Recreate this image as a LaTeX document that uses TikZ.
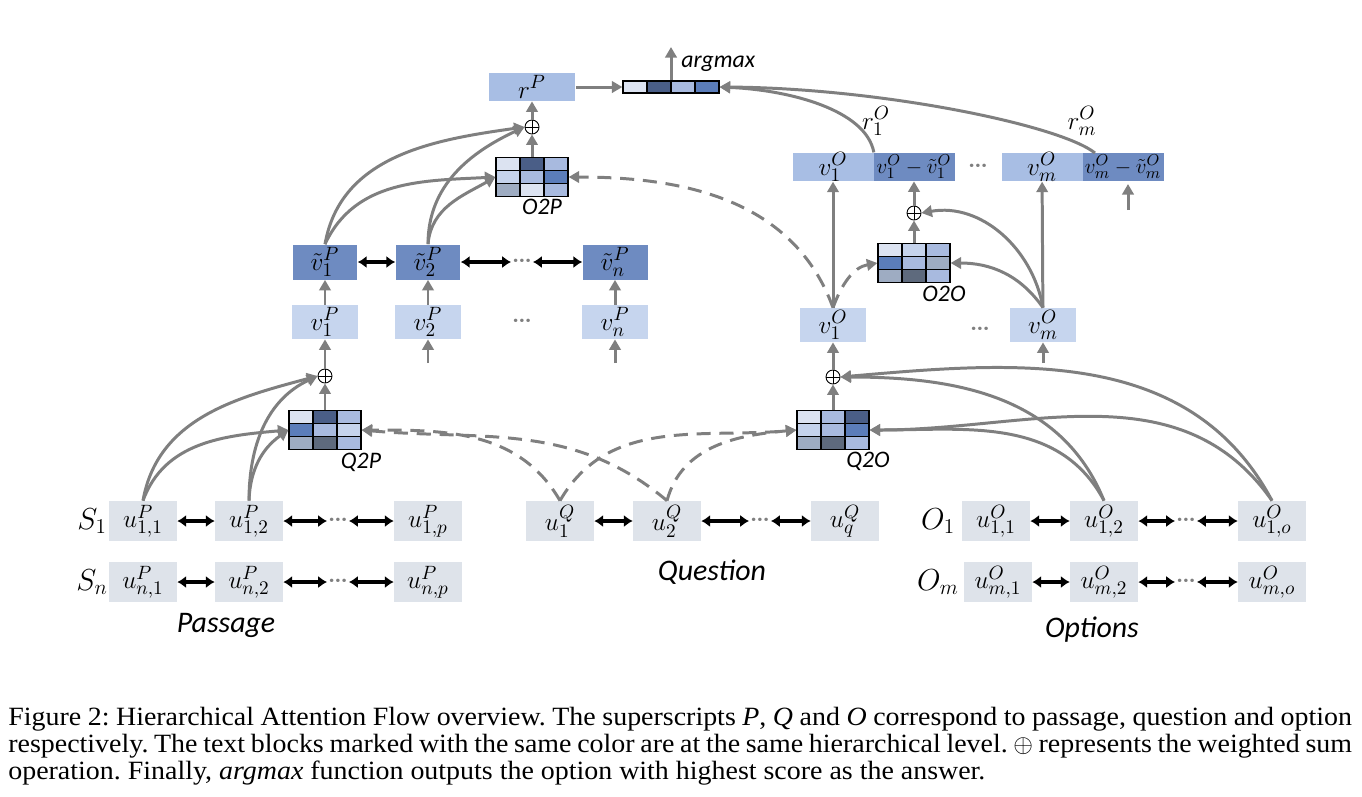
\documentclass[tikz,border=0pt]{standalone}
\usepackage{fontspec}
\setmainfont{Liberation Serif}[FakeStretch=1.06]
\newfontfamily\labfont{Carlito}
\usetikzlibrary{arrows.meta,matrix,positioning}

\definecolor{ugray}{RGB}{222,227,234}
\definecolor{vlight}{RGB}{198,213,238}
\definecolor{vmid}{RGB}{168,190,228}
\definecolor{vdark}{RGB}{110,139,193}
\definecolor{lgray}{RGB}{127,127,127}
\definecolor{c1}{RGB}{220,227,241}
\definecolor{c2}{RGB}{197,211,236}
\definecolor{c3}{RGB}{168,186,223}
\definecolor{c4}{RGB}{91,125,186}
\definecolor{c5}{RGB}{74,94,135}
\definecolor{c6}{RGB}{158,172,194}
\definecolor{c7}{RGB}{94,106,125}

\newcommand{\hdots}{{\fontsize{8}{8}\selectfont\textbullet\hspace{0.6pt}\textbullet\hspace{0.6pt}\textbullet}}

\tikzset{
  mathtxt/.style={font=\fontsize{15.5}{17}\selectfont},
  ubox/.style={mathtxt, fill=ugray, minimum width=1.36cm, minimum height=0.8cm, inner sep=0pt},
  vbox/.style={mathtxt, fill=vlight, minimum width=1.32cm, minimum height=0.68cm, inner sep=0pt},
  tbox/.style={mathtxt, fill=vdark, minimum width=1.3cm, minimum height=0.7cm, inner sep=0pt},
  rbox/.style={mathtxt, fill=vmid, minimum width=1.74cm, minimum height=0.56cm, inner sep=0pt},
  cbox/.style={mathtxt, fill=vmid, minimum width=1.62cm, minimum height=0.56cm, inner sep=0pt},
  dbox/.style={font=\fontsize{12.5}{14}\selectfont, fill=vdark, minimum width=1.62cm, minimum height=0.56cm, inner sep=0pt},
  seq/.style={font=\fontsize{17}{19}\selectfont, inner sep=0pt},
  dots/.style={text=lgray, inner sep=1pt},
  lab/.style={font=\labfont\itshape\fontsize{17}{19}\selectfont, inner sep=0pt},
  amlab/.style={font=\labfont\itshape\fontsize{13.5}{15}\selectfont, inner sep=0pt},
  mlab/.style={font=\labfont\itshape\fontsize{13.5}{15}\selectfont, inner sep=0pt},
  cell/.style={draw=black, line width=0.7pt, minimum width=0.48cm, minimum height=0.26cm, inner sep=0pt, outer sep=0pt},
  attn/.style={matrix of nodes, nodes in empty cells, inner sep=0pt, outer sep=0pt, column sep=-0.7pt, row sep=-0.7pt, nodes={cell}},
  sum/.style={circle, draw=black, line width=0.5pt, minimum size=0.28cm, inner sep=0pt, fill=white,
    path picture={\draw[line width=0.5pt] (path picture bounding box.north) -- (path picture bounding box.south)
      (path picture bounding box.west) -- (path picture bounding box.east);}},
  flow/.style={draw=lgray, line width=1.7pt, -{Triangle[length=6pt,width=6.5pt]}},
  dflow/.style={flow, dash pattern=on 8pt off 5pt},
  bi/.style={draw=black, line width=1.8pt, {Latex[length=5pt,width=7pt]}-{Latex[length=5pt,width=7pt]}},
  captxt/.style={anchor=base west, inner sep=0pt, font=\fontsize{15}{16}\selectfont},
}

\begin{document}
\frenchspacing
\begin{tikzpicture}[x=0.02cm,y=-0.02cm]
\useasboundingbox (0,0) rectangle (1362,796);

% passage words
\node[seq] (s1) at (92,521) {$S_1$};
\node[ubox] (u11) at (143,521) {$u^P_{1,1}$};
\node[ubox] (u12) at (249,521) {$u^P_{1,2}$};
\node[dots] (ud1) at (338,521) {\hdots};
\node[ubox] (u1p) at (428,521) {$u^P_{1,p}$};
\node[seq] (sn) at (92,582) {$S_n$};
\node[ubox] (un1) at (143,582) {$u^P_{n,1}$};
\node[ubox] (un2) at (249,582) {$u^P_{n,2}$};
\node[dots] (udn) at (338,582) {\hdots};
\node[ubox] (unp) at (428,582) {$u^P_{n,p}$};
\node[lab] (passage) at (226,625) {Passage};

\draw[bi] (u11) -- (u12);
\draw[bi] (u12) -- (ud1);
\draw[bi] (ud1) -- (u1p);
\draw[bi] (un1) -- (un2);
\draw[bi] (un2) -- (udn);
\draw[bi] (udn) -- (unp);

% question words
\node[ubox] (uq1) at (560,521) {$u^Q_1$};
\node[ubox] (uq2) at (667,521) {$u^Q_2$};
\node[dots] (uqd) at (760,521) {\hdots};
\node[ubox] (uqq) at (845,521) {$u^Q_q$};
\node[lab] (question) at (712,572) {Question};

\draw[bi] (uq1) -- (uq2);
\draw[bi] (uq2) -- (uqd);
\draw[bi] (uqd) -- (uqq);

% option words
\node[seq] (o1) at (938,521) {$O_1$};
\node[ubox] (uo11) at (996,521) {$u^O_{1,1}$};
\node[ubox] (uo12) at (1104,521) {$u^O_{1,2}$};
\node[dots] (uod1) at (1186,521) {\hdots};
\node[ubox] (uo1o) at (1272,521) {$u^O_{1,o}$};
\node[seq] (om) at (938,582) {$O_m$};
\node[ubox] (uom1) at (998,582) {$u^O_{m,1}$};
\node[ubox] (uom2) at (1104,582) {$u^O_{m,2}$};
\node[dots] (uodm) at (1186,582) {\hdots};
\node[ubox] (uomo) at (1272,582) {$u^O_{m,o}$};
\node[lab] (options) at (1092,630) {Options};

\draw[bi] (uo11) -- (uo12);
\draw[bi] (uo12) -- (uod1);
\draw[bi] (uod1) -- (uo1o);
\draw[bi] (uom1) -- (uom2);
\draw[bi] (uom2) -- (uodm);
\draw[bi] (uodm) -- (uomo);

% Q2P
\matrix (q2p) [attn] at (325,430) {
  |[fill=c1]| & |[fill=c5]| & |[fill=c3]| \\
  |[fill=c4]| & |[fill=c3]| & |[fill=c2]| \\
  |[fill=c6]| & |[fill=c7]| & |[fill=c3]| \\
};
\node[mlab] (q2plab) at (361,462) {Q2P};
\node[sum] (sumqp) at (325,376) {};

\draw[flow] (u11.north) to[out=80,in=195] (sumqp.west);
\draw[flow] (u11.north) to[out=70,in=185] (q2p.west);
\draw[flow] (u12.north) to[out=90,in=205] (sumqp.west);
\draw[flow] (u12.north) to[out=88,in=215] (q2p.west);
\draw[dflow] (uq1.north) to[out=120,in=0] (q2p.east);
\draw[dflow] (uq2.north) to[out=140,in=-5] (q2p.east);
\draw[flow] (q2p) -- (sumqp);

% passage sentences
\node[vbox] (v1p) at (325,322) {$v^P_1$};
\node[vbox] (v2p) at (428,322) {$v^P_2$};
\node[dots] (vpd) at (522,322) {\hdots};
\node[vbox] (vnp) at (615,322) {$v^P_n$};
\node[tbox] (tv1) at (325,262) {$\tilde{v}^P_1$};
\node[tbox] (tv2) at (428,262) {$\tilde{v}^P_2$};
\node[dots] (tvd) at (522,262) {\hdots};
\node[tbox] (tvn) at (615,262) {$\tilde{v}^P_n$};
\coordinate (in2) at (428,363);
\coordinate (inn) at (615,363);

\draw[flow] (sumqp) -- (v1p);
\draw[flow] (in2) -- (v2p);
\draw[flow] (inn) -- (vnp);
\draw[flow] (v1p) -- (tv1);
\draw[flow] (v2p) -- (tv2);
\draw[flow] (vnp) -- (tvn);
\draw[bi] (tv1) -- (tv2);
\draw[bi] (tv2) -- (tvd);
\draw[bi] (tvd) -- (tvn);

% O2P
\matrix (o2p) [attn] at (532,177) {
  |[fill=c1]| & |[fill=c5]| & |[fill=c3]| \\
  |[fill=c2]| & |[fill=c3]| & |[fill=c4]| \\
  |[fill=c6]| & |[fill=c1]| & |[fill=c3]| \\
};
\node[mlab] (o2plab) at (542,207) {O2P};
\node[sum] (sumop) at (532,127) {};
\node[rbox] (rp) at (532,87) {$r^P$};

\draw[flow] (tv1.north) to[out=80,in=188] (sumop.west);
\draw[flow] (tv1.north) to[out=65,in=183] (o2p.west);
\draw[flow] (tv2.north) to[out=90,in=205] (sumop.west);
\draw[flow] (tv2.north) to[out=85,in=210] (o2p.west);
\draw[flow] (o2p) -- (sumop);
\draw[flow] (sumop) -- (rp);

% Q2O
\matrix (q2o) [attn] at (833,430) {
  |[fill=c1]| & |[fill=c3]| & |[fill=c5]| \\
  |[fill=c2]| & |[fill=c3]| & |[fill=c4]| \\
  |[fill=c6]| & |[fill=c7]| & |[fill=c3]| \\
};
\node[mlab] (q2olab) at (868,461) {Q2O};
\node[sum] (sumqo) at (833,377) {};

\draw[dflow] (uq1.north) to[out=60,in=185] (q2o.west);
\draw[dflow] (uq2.north) to[out=75,in=185] (q2o.west);
\draw[flow] (uo12.north) to[out=112,in=0] (sumqo.east);
\draw[flow] (uo12.north) to[out=118,in=0] (q2o.east);
\draw[flow] (uo1o.north) to[out=118,in=5] (sumqo.east);
\draw[flow] (uo1o.north) to[out=125,in=0] (q2o.east);
\draw[flow] (q2o) -- (sumqo);

% option sentences
\node[vbox] (vo1) at (833,325) {$v^O_1$};
\node[dots] (vod) at (980,330) {\hdots};
\node[vbox] (vom) at (1043,325) {$v^O_m$};
\coordinate (inm) at (1043,363);

\draw[flow] (sumqo) -- (vo1);
\draw[flow] (inm) -- (vom);

% O2O
\matrix (o2o) [attn] at (914,263) {
  |[fill=c1]| & |[fill=c2]| & |[fill=c3]| \\
  |[fill=c4]| & |[fill=c3]| & |[fill=c6]| \\
  |[fill=c6]| & |[fill=c7]| & |[fill=c3]| \\
};
\node[mlab] (o2olab) at (944,294) {O2O};
\node[sum] (sumoo) at (914,213) {};

\draw[dflow] (vo1.north) to[out=110,in=0] (o2p.east);
\draw[dflow] (vo1.north) to[out=70,in=190] (o2o.west);
\draw[flow] (vom.north) to[out=125,in=0] (o2o.east);
\draw[flow] (vom.north) to[out=100,in=10] (sumoo.east);
\draw[flow] (o2o) -- (sumoo);

% option vectors
\node[cbox] (co1) at (833,167) {$v^O_1$};
\node[dbox] (do1) at (914,167) {$v^O_1-\tilde{v}^O_1$};
\node[dots] (cod) at (978,167) {\hdots};
\node[cbox] (com) at (1042,167) {$v^O_m$};
\node[dbox] (dom) at (1123,167) {$v^O_m-\tilde{v}^O_m$};
\coordinate (indm) at (1128,210);

\draw[flow] (vo1) -- (co1);
\draw[flow] (sumoo) -- (do1);
\draw[flow] (vom) -- (com);
\draw[flow] (indm) -- (1128,184);

% argmax
\matrix (am) [attn, nodes={minimum height=0.24cm}] at (671,87) {
  |[fill=c1]| & |[fill=c5]| & |[fill=c3]| & |[fill=c4]| \\
};
\node[amlab, anchor=west] (amtxt) at (681,64) {argmax};
\coordinate (out) at (671,47);
\node[mathtxt, inner sep=0pt] (ro1lab) at (876,121) {$r^O_1$};
\node[mathtxt, inner sep=0pt] (romlab) at (1082,121) {$r^O_m$};
\coordinate (rm) at (1095,153);

\draw[flow] (rp) -- (am);
\draw[flow] (am.north) -- (out);
\draw[flow] (co1.north east) .. controls (866,110) and (790,90) .. (am.east);
\draw[flow] (rm) .. controls (1060,125) and (880,88) .. (am.east);

% caption
\node[captxt] (cap1) at (8,725) {\makebox[26.88cm][s]{Figure 2: Hierarchical Attention Flow overview. The superscripts \textit{P}, \textit{Q} and \textit{O} correspond to passage, question and option}};
\node[captxt] (cap2) at (8,752) {\makebox[26.88cm][s]{respectively. The text blocks marked with the same color are at the same hierarchical level. $\oplus$ represents the weighted sum}};
\node[captxt] (cap3) at (8,779) {operation. Finally, \textit{argmax} function outputs the option with highest score as the answer.};
\end{tikzpicture}
\end{document}
